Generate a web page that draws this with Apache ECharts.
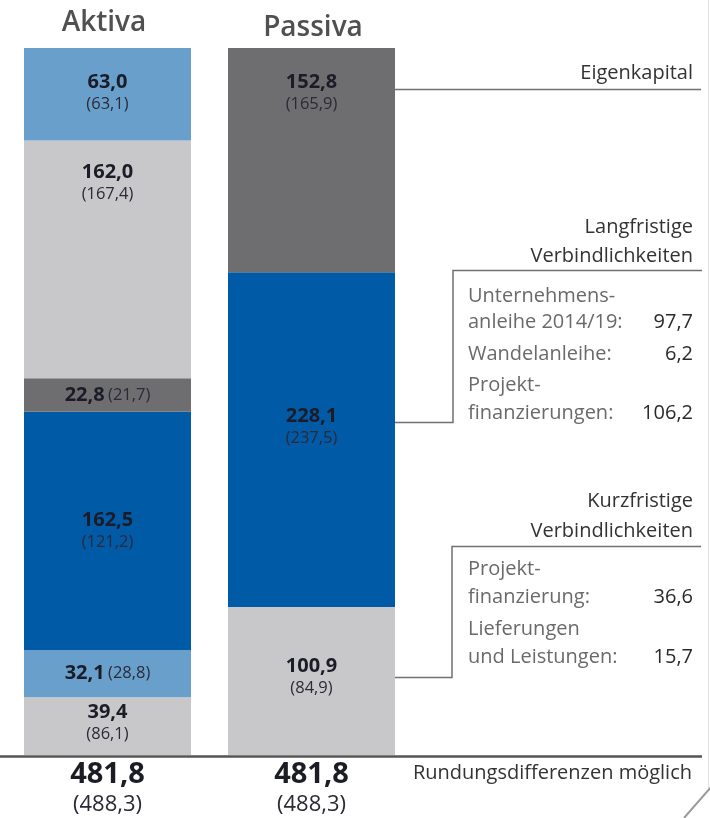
<!DOCTYPE html>
<html>
<head>
<meta charset="utf-8">
<script src="https://cdn.jsdelivr.net/npm/echarts@6/dist/echarts.min.js"></script>
<style>
  html, body { margin: 0; padding: 0; background: #fff; }
  #chart { width: 710px; height: 818px; }
</style>
</head>
<body>
<div id="chart"></div>
<script>
// Kategorien
const categories = ['Aktiva', 'Passiva']

// Aktiva-Segmente von unten nach oben (Vorjahr in Klammern)
const aktivaValues = [39.4, 32.1, 162.5, 22.8, 162.0, 63.0]
const aktivaPrev = [86.1, 28.8, 121.2, 21.7, 167.4, 63.1]

// Passiva-Segmente von unten nach oben
const passivaValues = [100.9, 228.1, 152.8]
const passivaPrev = [84.9, 237.5, 165.9]

// Summen
const totals = [481.8, 481.8]
const totalsPrev = [488.3, 488.3]

// Aufschlüsselung rechts
const langfristigItems = [['Unternehmens-', 'anleihe 2014/19:'], ['Wandelanleihe:'], ['Projekt-', 'finanzierungen:']]
const langfristigValues = [97.7, 6.2, 106.2]
const kurzfristigItems = [['Projekt-', 'finanzierung:'], ['Lieferungen', 'und Leistungen:']]
const kurzfristigValues = [36.6, 15.7]

const fmt = v => v.toFixed(1).replace('.', ',')

const C_LIGHTBLUE = '#68a0cb'
const C_LIGHTGRAY = '#c8c8ca'
const C_DARKGRAY = '#6e6e70'
const C_BLUE = '#005aa6'
const FONT = '"Open Sans", Roboto, sans-serif'

// Darstellung je Segment (Farbe, Label-Layout)
const aktivaStyle = [
  { color: C_LIGHTGRAY, pos: 'inside', off: [0, -3], inline: false },
  { color: C_LIGHTBLUE, pos: 'inside', off: [0, 0], inline: true },
  { color: C_BLUE, pos: 'inside', off: [0, 0], inline: false },
  { color: C_DARKGRAY, pos: 'inside', off: [0, 0], inline: true },
  { color: C_LIGHTGRAY, pos: 'insideTop', dist: 21, off: [0, 0], inline: false },
  { color: C_LIGHTBLUE, pos: 'insideTop', dist: 23, off: [0, 0], inline: false }
]
const passivaStyle = [
  { color: C_LIGHTGRAY, pos: 'inside', off: [0, -4], inline: false },
  { color: C_BLUE, pos: 'inside', off: [0, -12], inline: false },
  { color: C_DARKGRAY, pos: 'insideTop', dist: 23, off: [0, 0], inline: false }
]

const richLabel = {
  b: { fontFamily: FONT, fontSize: 20, fontWeight: 'bold', color: '#1c1c28', lineHeight: 22 },
  p: { fontFamily: FONT, fontSize: 16.5, color: '#2a2a38', lineHeight: 22 }
}

const makeSeries = (values, prev, styles, idx) => values.map((v, i) => {
  const s = styles[i]
  const data = idx === 0 ? [v, '-'] : ['-', v]
  return {
    type: 'bar',
    stack: 'bilanz',
    barWidth: 167,
    data: data,
    itemStyle: { color: s.color },
    emphasis: { disabled: true },
    label: {
      show: true,
      position: s.pos,
      distance: s.dist || 5,
      offset: s.off,
      formatter: () => s.inline
        ? '{b|' + fmt(v) + '} {p|(' + fmt(prev[i]) + ')}'
        : '{b|' + fmt(v) + '}\n{p|(' + fmt(prev[i]) + ')}',
      rich: richLabel
    }
  }
})

const chart = echarts.init(document.getElementById('chart'))

const txt = (x, y, text, opts) => ({
  type: 'text', x: x, y: y,
  style: Object.assign({
    text: text, fontFamily: FONT, fontSize: 20, fill: '#3a3a3a',
    align: 'right', verticalAlign: 'middle'
  }, opts || {})
})
const line = (points, stroke, w) => ({
  type: 'polyline',
  shape: { points: points },
  style: { stroke: stroke || '#707070', lineWidth: w || 1.5, fill: null }
})
const dot = (x, y) => ({ type: 'circle', shape: { cx: x, cy: y, r: 2.6 }, style: { fill: '#505052' } })

const graphics = []

// Titel
graphics.push(txt(104, 23, categories[0], { align: 'center', fontSize: 28, fontWeight: 600, fill: '#505050' }))
graphics.push(txt(313, 28, categories[1], { align: 'center', fontSize: 28, fontWeight: 600, fill: '#505050' }))

// Summen unten
const barCenters = [107.5, 311.5]
totals.forEach((t, i) => {
  graphics.push(txt(barCenters[i], 775, fmt(t), { align: 'center', fontSize: 29, fontWeight: 'bold', fill: '#1c1c24' }))
  graphics.push(txt(barCenters[i], 805, '(' + fmt(totalsPrev[i]) + ')', { align: 'center', fontSize: 22, fill: '#2a2a34' }))
})

// Grundlinie
graphics.push(line([[0, 756.5], [702, 756.5]], '#555555', 2.5))
graphics.push(txt(692, 773, 'Rundungsdifferenzen möglich', { fill: '#333333' }))

// Rahmenlinien rechts
graphics.push(line([[708.5, 0], [708.5, 790]], '#e2e2e2', 1))
graphics.push(line([[711, 787], [684, 818]], '#9a9a9a', 2))

// Eigenkapital
graphics.push(line([[376, 89.5], [701, 89.5]]))
graphics.push(dot(376, 89.5))
graphics.push(txt(693, 73, 'Eigenkapital', { fill: '#333333' }))

// Langfristige Verbindlichkeiten
graphics.push(line([[379, 422.5], [453, 422.5], [453, 270.5], [702, 270.5]]))
graphics.push(dot(379, 422.5))
graphics.push(txt(693, 227, 'Langfristige', { fill: '#333333' }))
graphics.push(txt(693, 256, 'Verbindlichkeiten', { fill: '#333333' }))
const langY = [[296, 322], [354], [385, 413]]
langfristigItems.forEach((rows, i) => {
  rows.forEach((r, j) => graphics.push(txt(468, langY[i][j], r, { align: 'left', fill: '#6a6a6a' })))
  graphics.push(txt(693, langY[i][rows.length - 1], fmt(langfristigValues[i]), { fill: '#2a2a2a' }))
})

// Kurzfristige Verbindlichkeiten
graphics.push(line([[379, 677.5], [452, 677.5], [452, 546.5], [701, 546.5]]))
graphics.push(dot(379, 677.5))
graphics.push(txt(693, 501, 'Kurzfristige', { fill: '#333333' }))
graphics.push(txt(693, 531, 'Verbindlichkeiten', { fill: '#333333' }))
const kurzY = [[569, 597], [629, 657]]
kurzfristigItems.forEach((rows, i) => {
  rows.forEach((r, j) => graphics.push(txt(468, kurzY[i][j], r, { align: 'left', fill: '#6a6a6a' })))
  graphics.push(txt(693, kurzY[i][rows.length - 1], fmt(kurzfristigValues[i]), { fill: '#2a2a2a' }))
})

chart.setOption({
  animation: false,
  grid: { left: 5.5, right: 296.5, top: 48, bottom: 63 },
  xAxis: {
    type: 'category',
    data: categories,
    show: false
  },
  yAxis: {
    type: 'value',
    min: 0,
    max: totals[0],
    show: false
  },
  series: [
    ...makeSeries(aktivaValues, aktivaPrev, aktivaStyle, 0),
    ...makeSeries(passivaValues, passivaPrev, passivaStyle, 1)
  ],
  graphic: graphics
})
</script>
</body>
</html>
